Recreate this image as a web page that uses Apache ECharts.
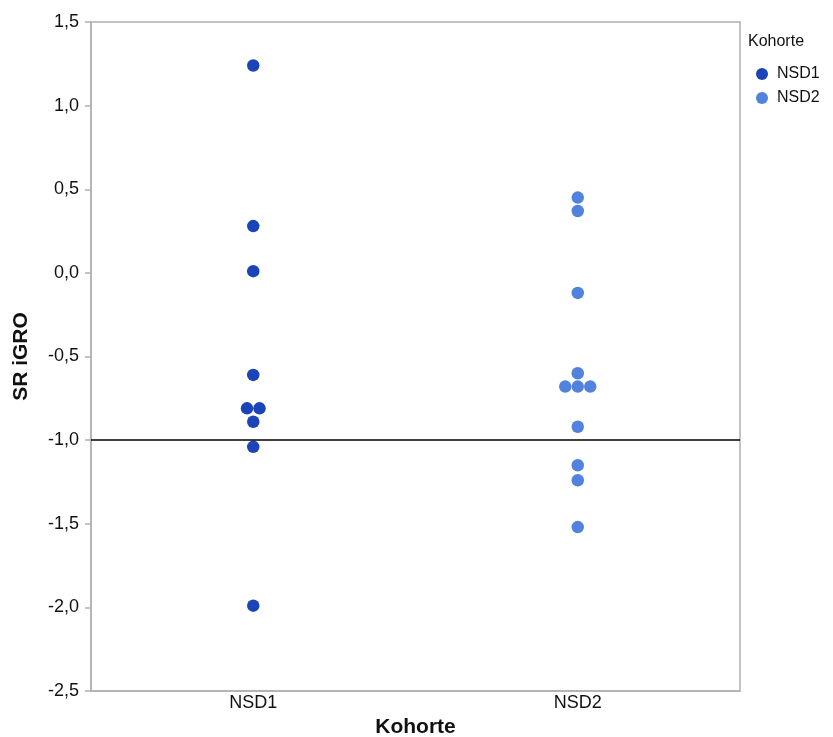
<!DOCTYPE html>
<html>
<head>
<meta charset="utf-8">
<script src="https://cdn.jsdelivr.net/npm/echarts@6/dist/echarts.min.js"></script>
<style>html,body{margin:0;padding:0;background:#fff;}#c{width:833px;height:737px;}</style>
</head>
<body>
<div id="c"></div>
<script>
var categories = ['NSD1', 'NSD2'];
var nsd1Values = [1.24, 0.28, 0.01, -0.61, -0.81, -0.81, -0.89, -1.04, -1.99];
var nsd2Values = [0.45, 0.37, -0.12, -0.60, -0.68, -0.68, -0.68, -0.92, -1.15, -1.24, -1.52];
var yTicks = [-2.5, -2.0, -1.5, -1.0, -0.5, 0.0, 0.5, 1.0, 1.5];
var referenceLine = -1.0;
var colors = ['#1b44b8', '#5082de'];

var DOT = 12.5;
function buildData(cat, vals) {
  var counts = {}, seen = {};
  vals.forEach(function (v) { counts[v] = (counts[v] || 0) + 1; });
  return vals.map(function (v) {
    var n = counts[v];
    var i = seen[v] || 0; seen[v] = i + 1;
    var dx = (i - (n - 1) / 2) * DOT;
    return { value: [cat, v], symbolOffset: [dx, 0] };
  });
}
function fmt(v) { return v.toFixed(1).replace('.', ','); }

var FONT = 'Liberation Sans, Arial, sans-serif';
var chart = echarts.init(document.getElementById('c'));
chart.setOption({
  animation: false,
  textStyle: { fontFamily: FONT },
  grid: { left: 91, top: 22, width: 649, height: 669, containLabel: false, outerBoundsMode: 'none',
          show: true, borderColor: '#b0b0b0', borderWidth: 1.5 },
  xAxis: {
    type: 'category', data: categories, boundaryGap: true,
    axisLine: { onZero: false, lineStyle: { color: '#b0b0b0', width: 1.5 } },
    axisTick: { show: false },
    axisLabel: { color: '#111', fontSize: 18, margin: 3 },
    name: 'Kohorte', nameLocation: 'middle', nameGap: 25,
    nameTextStyle: { color: '#111', fontSize: 21, fontWeight: 'bold' }
  },
  yAxis: {
    type: 'value', min: yTicks[0], max: yTicks[yTicks.length - 1], interval: 0.5,
    axisLine: { show: true, lineStyle: { color: '#b0b0b0', width: 1.5 } },
    axisTick: { show: true, length: 6, lineStyle: { color: '#b0b0b0', width: 1.5 } },
    splitLine: { show: false },
    axisLabel: { color: '#111', fontSize: 18, margin: 12, formatter: fmt },
    name: 'SR iGRO', nameLocation: 'middle', nameGap: 59, nameRotate: 90,
    nameTextStyle: { color: '#111', fontSize: 21, fontWeight: 'bold' }
  },
  legend: {
    orient: 'vertical', left: 751, top: 61, itemGap: 8,
    icon: 'circle', itemWidth: 12, itemHeight: 12,
    textStyle: { color: '#111', fontSize: 16, padding: [0, 0, 0, 4] },
    data: categories
  },
  graphic: [{ type: 'text', left: 748, top: 34, style: { text: 'Kohorte', fontSize: 16, fill: '#111', fontFamily: FONT } }],
  series: [
    {
      name: 'NSD1', type: 'scatter', symbolSize: DOT, itemStyle: { color: colors[0], opacity: 1 },
      data: buildData('NSD1', nsd1Values),
      markLine: {
        silent: true, symbol: 'none', label: { show: false },
        lineStyle: { color: '#000', width: 1.5, type: 'solid' },
        data: [{ yAxis: referenceLine }]
      }
    },
    {
      name: 'NSD2', type: 'scatter', symbolSize: DOT, itemStyle: { color: colors[1], opacity: 1 },
      data: buildData('NSD2', nsd2Values)
    }
  ]
});
</script>
</body>
</html>
